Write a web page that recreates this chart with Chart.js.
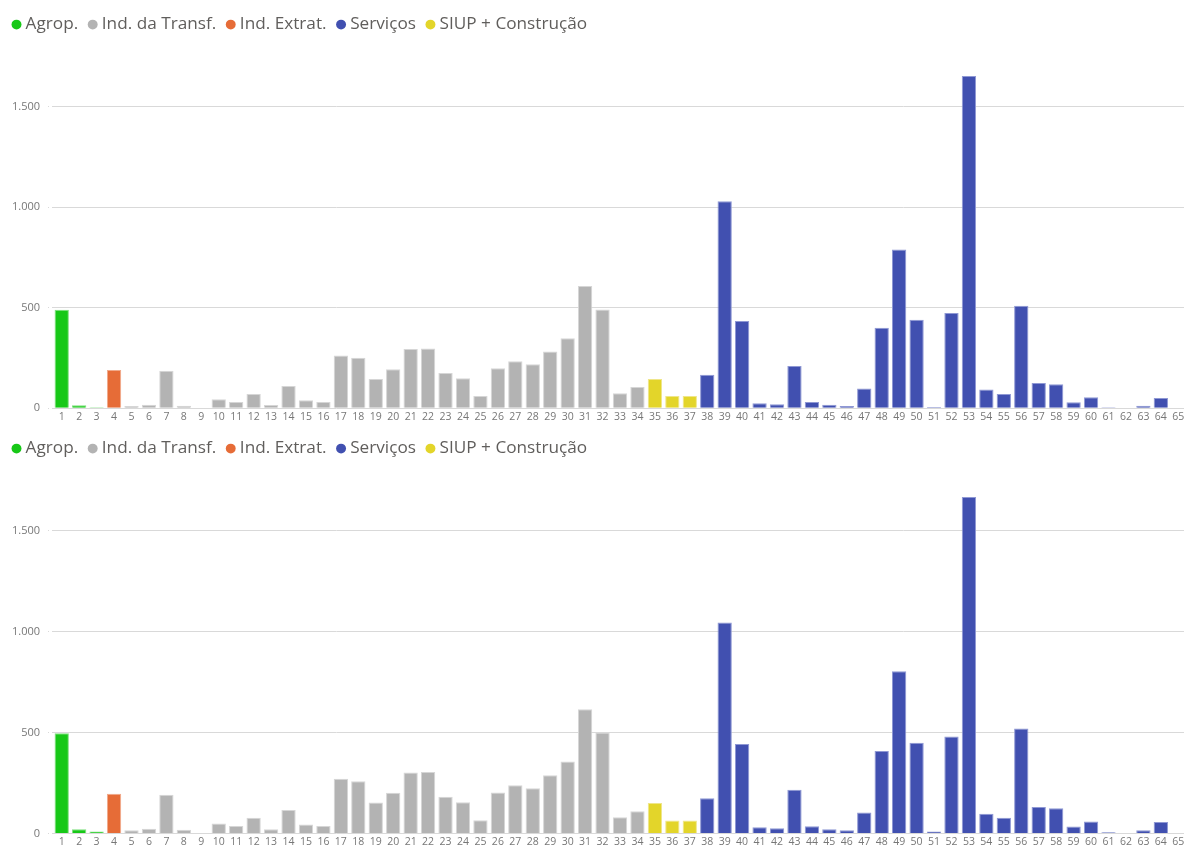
<!DOCTYPE html>
<html>
<head>
<meta charset="utf-8">
<script src="https://cdn.jsdelivr.net/npm/chart.js@4.4.1/dist/chart.umd.min.js"></script>
<style>
html, body { margin: 0; padding: 0; background: #fff; overflow: hidden; width: 1184px; height: 848px; }
.box { position: absolute; left: 0; width: 1190px; height: 424px; }
</style>
</head>
<body>
<div class="box" style="top:0"><canvas id="chartTop"></canvas></div>
<div class="box" style="top:424px"><canvas id="chartBottom"></canvas></div>
<script>
var labels = ['1','2','3','4','5','6','7','8','9','10','11','12','13','14','15','16','17','18','19','20',
              '21','22','23','24','25','26','27','28','29','30','31','32','33','34','35','36','37','38','39','40',
              '41','42','43','44','45','46','47','48','49','50','51','52','53','54','55','56','57','58','59','60',
              '61','62','63','64','65'];

// sector of each category: A = Agrop., T = Ind. da Transf., E = Ind. Extrat., S = Serviços, C = SIUP + Construção
var sectorOf = ['A','A','A','E','T','T','T','T','T','T','T','T','T','T','T','T','T','T','T','T',
                'T','T','T','T','T','T','T','T','T','T','T','T','T','T','C','C','C','S','S','S',
                'S','S','S','S','S','S','S','S','S','S','S','S','S','S','S','S','S','S','S','S',
                'S','S','S','S','S'];

var sectorKeys = ['A', 'T', 'E', 'S', 'C'];
var sectorNames = ['Agrop.', 'Ind. da Transf.', 'Ind. Extrat.', 'Serviços', 'SIUP + Construção'];
var sectorColors = ['#17C817', '#B3B3B3', '#E66C37', '#4150B0', '#E3D52A'];
var sectorBorders = ['#7ee07e', '#d6d6d6', '#f0a98a', '#8f98d4', '#efe68a'];

var valuesTop = [490, 15, 5, 190, 11, 18, 187, 13, 0, 45, 31, 71, 16, 111, 40, 31, 263, 252, 146, 194,
                 295, 298, 175, 149, 61, 199, 234, 219, 283, 348, 608, 492, 75, 106, 146, 61, 61, 167, 1030, 434,
                 25, 20, 210, 31, 18, 11, 99, 401, 790, 440, 6, 474, 1653, 94, 71, 510, 126, 119, 30, 55,
                 5, 0, 13, 51, 0];

var valuesBottom = [497, 20, 10, 197, 15, 23, 192, 18, 0, 49, 37, 77, 21, 116, 44, 37, 271, 259, 153, 202,
                    302, 305, 182, 154, 65, 203, 239, 224, 288, 356, 615, 500, 80, 110, 151, 64, 64, 174, 1045, 443,
                    30, 25, 217, 36, 21, 15, 103, 408, 804, 449, 10, 480, 1668, 98, 77, 520, 131, 125, 34, 59,
                    6, 0, 15, 57, 0];

var yTicks = [0, 500, 1000, 1500];

function fmt(v) {
    return String(v).replace(/\B(?=(\d{3})+(?!\d))/g, '.');
}

var legendSpace = {
    id: 'legendSpace',
    beforeInit: function(chart) {
        var fit = chart.legend.fit;
        chart.legend.fit = function() {
            fit.call(this);
            this.height = chart.options.plugins.legendSpace.height;
        };
    }
};

function makeChart(id, values, xHeight) {
    var datasets = sectorKeys.map(function(key, k) {
        return {
            label: sectorNames[k],
            data: values.map(function(v, i) { return sectorOf[i] === key ? v : null; }),
            backgroundColor: sectorColors[k],
            borderColor: sectorBorders[k],
            borderWidth: 1,
            barPercentage: 0.82,
            categoryPercentage: 1,
            grouped: false
        };
    });

    return new Chart(document.getElementById(id), {
        type: 'bar',
        data: { labels: labels, datasets: datasets },
        plugins: [legendSpace],
        options: {
            responsive: true,
            maintainAspectRatio: false,
            animation: false,
            layout: { padding: { top: 2, left: 2, right: 3, bottom: 0 } },
            plugins: {
                legendSpace: { height: 64.5 },
                tooltip: { enabled: false },
                legend: {
                    position: 'top',
                    align: 'start',
                    labels: {
                        usePointStyle: true,
                        pointStyle: 'circle',
                        boxWidth: 1,
                        boxHeight: 7,
                        padding: 14,
                        color: '#605E5C',
                        font: { family: 'Open Sans', size: 17.2 },
                        generateLabels: function(chart) {
                            var items = Chart.defaults.plugins.legend.labels.generateLabels(chart);
                            items.forEach(function(it) { it.lineWidth = 0; });
                            return items;
                        }
                    }
                }
            },
            scales: {
                x: {
                    grid: { display: false, drawTicks: false },
                    border: { display: false },
                    ticks: {
                        autoSkip: false,
                        maxRotation: 0,
                        padding: 2,
                        color: '#777',
                        font: { family: 'Open Sans', size: 10.5 }
                    },
                    afterFit: function(s) { s.height = xHeight; }
                },
                y: {
                    min: 0,
                    max: 1700,
                    border: { display: false },
                    grid: {
                        color: '#d9d9d9',
                        lineWidth: 1,
                        borderDash: [1, 3],
                        tickLength: 5,
                        tickBorderDash: [1, 3],
                        tickColor: '#d9d9d9'
                    },
                    ticks: {
                        stepSize: 500,
                        padding: 8,
                        color: '#777',
                        font: { family: 'Open Sans', size: 11 },
                        callback: function(v) { return fmt(v); }
                    },
                    afterBuildTicks: function(s) {
                        s.ticks = yTicks.map(function(v) { return { value: v }; });
                    },
                    afterFit: function(s) { s.width = 53 - 2; }
                }
            }
        }
    });
}

makeChart('chartTop', valuesTop, 15.7);
makeChart('chartBottom', valuesBottom, 13.7);
</script>
</body>
</html>
